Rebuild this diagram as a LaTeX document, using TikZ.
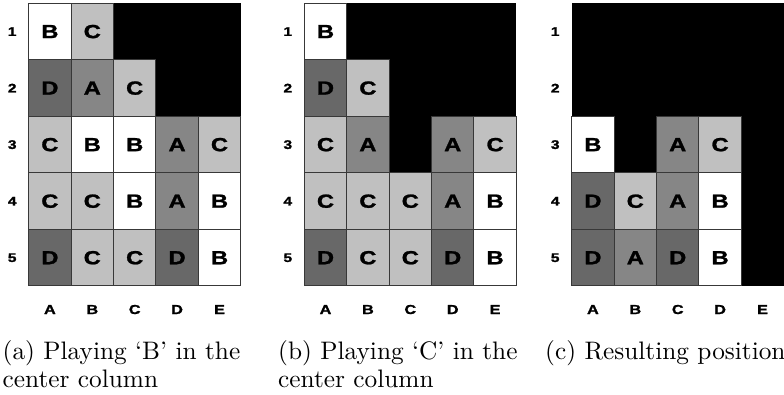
\documentclass[tikz,border=0pt]{standalone}
\usepackage{fontspec}
\usepackage{graphicx}
\newfontfamily\cellfont{Liberation Sans}[BoldFeatures={FakeBold=1.2}]
\newfontfamily\capfont{lmroman10-regular}[Extension=.otf, Ligatures=TeX]
\definecolor{colB}{HTML}{FFFFFF}
\definecolor{colC}{HTML}{C0C0C0}
\definecolor{colA}{HTML}{868686}
\definecolor{colD}{HTML}{686868}
\definecolor{gridline}{HTML}{383838}
\newcommand{\sx}[1]{\scalebox{1.25}[1]{#1}}
\tikzset{
  cellbox/.style={draw=gridline, line width=1pt, minimum width=42.4pt, minimum height=56.54pt, inner sep=0pt,
    font=\cellfont\bfseries\fontsize{19}{19}\selectfont},
  rowlab/.style={inner sep=0pt, font=\cellfont\bfseries\fontsize{12.5}{12.5}\selectfont},
  collab/.style={inner sep=0pt, anchor=base, font=\cellfont\bfseries\fontsize{13}{13}\selectfont},
  captxt/.style={inner sep=0pt, anchor=base west, font=\capfont\fontsize{25.3}{28}\selectfont}
}
\newcommand{\boardgrid}[7]{%
  \fill[black] (#2,3.3) rectangle ++(212,282.7);
  \foreach \rr/\row in {1/{#3},2/{#4},3/{#5},4/{#6},5/{#7}} {
    \node[rowlab] (#1-r\rr) at (#2-16.5, 3.3+56.54*\rr-28.27) {\sx{\rr}};
    \foreach \l [count=\ci] in \row {
      \if\l X\else
      \node[cellbox, fill=col\l] (#1-\rr-\ci) at (#2+42.4*\ci-21.2, 3.3+56.54*\rr-28.27) {\sx{\l}};
      \fi
    }
  }
  \foreach \l [count=\ci] in {A,B,C,D,E}
    \node[collab] (#1-c\ci) at (#2+42.4*\ci-21.2, 314) {\sx{\l}};
}
\begin{document}
\begin{tikzpicture}[x=1pt,y=-1pt]
\useasboundingbox (0,0) rectangle (784,395);
\boardgrid{ga}{28.7}{B,C,X,X,X}{D,A,C,X,X}{C,B,B,A,C}{C,C,B,A,B}{D,C,C,D,B}
\boardgrid{gb}{304.3}{B,X,X,X,X}{D,C,X,X,X}{C,A,X,A,C}{C,C,C,A,B}{D,C,C,D,B}
\boardgrid{gc}{571.7}{X,X,X,X,X}{X,X,X,X,X}{B,X,A,C,X}{D,C,A,B,X}{D,A,D,B,X}
\node[captxt] (capa1) at (2.5,359) {(a) Playing ‘B’ in the};
\node[captxt] (capa2) at (2.5,387) {center column};
\node[captxt] (capb1) at (278,359) {(b) Playing ‘C’ in the};
\node[captxt] (capb2) at (278,387) {center column};
\node[captxt] (capc1) at (545,359) {(c) Resulting position};
\end{tikzpicture}
\end{document}
